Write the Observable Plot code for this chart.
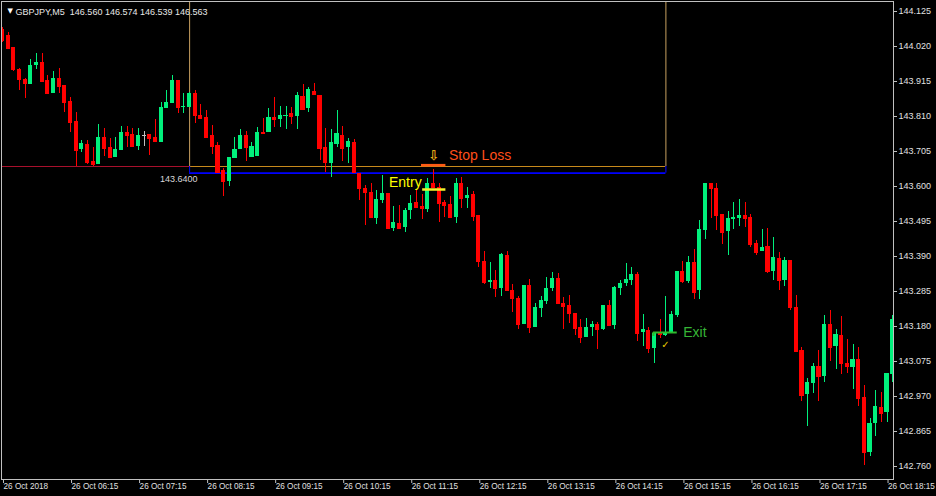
<!DOCTYPE html>
<html>
<head>
<meta charset="utf-8">
<script src="https://cdn.jsdelivr.net/npm/d3@7"></script>
<script src="https://cdn.jsdelivr.net/npm/@observablehq/plot@0.6"></script>
<style>
html, body { margin: 0; padding: 0; background: #000; }
#chart svg { display: block; }
</style>
</head>
<body>
<div id="chart"></div>
<script>
// ---- Data (GBPJPY, M5, 26 Oct 2018) ----
const symbolLabel = "GBPJPY,M5";
const headerQuote = ["146.560", "146.574", "146.539", "146.563"];

const open = [
144.071,144.053,144.017,143.951,143.921,143.906,143.963,143.972,143.918,143.879,
143.924,143.903,143.855,143.795,143.711,143.726,143.675,143.666,143.747,143.717,
143.687,143.708,143.762,143.756,143.720,143.753,143.756,143.747,143.732,143.834,
143.849,143.918,143.837,143.837,143.879,143.813,143.807,143.753,143.723,143.648,
143.615,143.684,143.711,143.753,143.687,143.690,143.762,143.762,143.807,143.801,
143.810,143.819,143.810,143.870,143.834,143.885,143.873,143.717,143.669,143.726,
143.753,143.717,143.732,143.639,143.594,143.582,143.504,143.558,143.579,143.474,
143.489,143.477,143.528,143.552,143.540,143.531,143.609,143.597,143.552,143.546,
143.507,143.609,143.564,143.576,143.513,143.375,143.312,143.318,143.294,143.393,
143.288,143.264,143.186,143.303,143.177,143.234,143.255,143.294,143.324,143.249,
143.243,143.219,143.177,143.147,143.177,143.186,143.171,143.243,143.183,143.294,
143.309,143.318,143.336,143.162,143.168,143.114,143.162,143.153,143.159,143.213,
143.345,143.315,143.372,143.288,143.468,143.609,143.594,143.516,143.465,143.501,
143.504,143.513,143.507,143.429,143.405,143.420,143.345,143.384,143.318,143.378,
143.237,143.108,142.976,143.009,143.060,143.030,143.186,143.120,143.153,143.069,
143.057,143.081,142.967,142.802,142.889,142.937,142.922,143.036
];
const high = [
144.077,144.062,144.017,143.954,143.924,143.981,143.999,143.999,143.933,143.945,
143.954,143.903,143.867,143.822,143.738,143.738,143.717,143.786,143.774,143.744,
143.747,143.780,143.780,143.774,143.774,143.765,143.756,143.801,143.852,143.888,
143.933,143.918,143.879,143.882,143.888,143.846,143.828,143.783,143.732,143.654,
143.687,143.747,143.771,143.765,143.732,143.777,143.804,143.834,143.867,143.840,
143.840,143.837,143.882,143.906,143.897,143.909,143.873,143.774,143.771,143.828,
143.780,143.744,143.741,143.639,143.603,143.609,143.588,143.633,143.579,143.540,
143.543,143.534,143.573,143.588,143.576,143.624,143.651,143.609,143.558,143.570,
143.624,143.627,143.597,143.585,143.513,143.405,143.372,143.348,143.399,143.405,
143.306,143.270,143.303,143.321,143.249,143.270,143.327,143.342,143.339,143.267,
143.273,143.219,143.201,143.204,143.195,143.192,143.243,143.258,143.300,143.318,
143.369,143.357,143.342,143.216,143.177,143.159,143.201,143.270,143.225,143.345,
143.375,143.390,143.411,143.498,143.609,143.609,143.609,143.516,143.525,143.552,
143.561,143.552,143.516,143.438,143.471,143.474,143.447,143.402,143.387,143.378,
143.273,143.117,143.024,143.069,143.108,143.213,143.228,143.171,143.210,143.141,
143.126,143.117,143.003,142.904,142.988,142.982,143.039,143.213
];
const low = [
144.032,144.011,143.945,143.888,143.864,143.906,143.951,143.915,143.879,143.879,
143.879,143.822,143.762,143.660,143.702,143.666,143.660,143.666,143.690,143.687,
143.687,143.708,143.717,143.720,143.708,143.720,143.693,143.735,143.732,143.834,
143.849,143.819,143.819,143.837,143.789,143.801,143.747,143.696,143.642,143.570,
143.600,143.684,143.711,143.675,143.687,143.690,143.759,143.762,143.777,143.777,
143.771,143.786,143.771,143.831,143.822,143.876,143.678,143.642,143.627,143.717,
143.675,143.669,143.642,143.558,143.483,143.507,143.486,143.549,143.474,143.465,
143.474,143.462,143.501,143.534,143.501,143.522,143.597,143.492,143.507,143.507,
143.489,143.534,143.534,143.495,143.357,143.306,143.294,143.267,143.270,143.288,
143.222,143.171,143.186,143.159,143.177,143.207,143.246,143.285,143.249,143.171,
143.189,143.153,143.129,143.147,143.150,143.111,143.168,143.183,143.171,143.273,
143.300,143.303,143.135,143.120,143.099,143.069,143.144,143.150,143.159,143.207,
143.309,143.309,143.261,143.261,143.441,143.504,143.468,143.426,143.393,143.471,
143.480,143.477,143.417,143.393,143.405,143.339,143.318,143.288,143.300,143.228,
143.105,142.955,142.880,142.979,142.955,143.012,143.075,143.051,143.036,143.039,
142.991,142.940,142.763,142.790,142.850,142.892,142.892,143.012
];
const close = [
144.038,144.014,143.951,143.921,143.909,143.963,143.972,143.915,143.879,143.924,
143.900,143.852,143.792,143.708,143.729,143.672,143.666,143.747,143.714,143.687,
143.711,143.762,143.753,143.720,143.753,143.753,143.744,143.735,143.837,143.852,
143.918,143.837,143.840,143.879,143.813,143.804,143.747,143.720,143.642,143.615,
143.687,143.711,143.753,143.717,143.720,143.762,143.759,143.807,143.801,143.813,
143.813,143.810,143.873,143.831,143.891,143.876,143.714,143.672,143.732,143.759,
143.714,143.735,143.642,143.594,143.582,143.507,143.561,143.579,143.474,143.492,
143.474,143.528,143.549,143.537,143.534,143.609,143.597,143.549,143.543,143.507,
143.609,143.564,143.573,143.510,143.375,143.312,143.318,143.294,143.396,143.288,
143.264,143.186,143.303,143.177,143.237,143.258,143.294,143.324,143.249,143.240,
143.219,143.174,143.147,143.177,143.186,143.171,143.243,143.183,143.297,143.309,
143.321,143.336,143.159,143.171,143.114,143.159,143.156,143.159,143.216,143.345,
143.315,143.372,143.282,143.471,143.609,143.594,143.513,143.462,143.504,143.507,
143.513,143.504,143.426,143.402,143.417,143.345,143.387,143.318,143.378,143.237,
143.105,142.973,143.012,143.060,143.030,143.186,143.117,143.156,143.069,143.060,
143.081,142.964,142.802,142.889,142.940,142.919,143.039,143.201
];

// price axis ticks and time axis labels (bar index of each label)
const priceTicks = [142.760,142.865,142.970,143.075,143.180,143.285,143.390,143.495,143.600,143.705,143.810,143.915,144.020,144.125];
const timeTickBars = [1,13,25,37,49,61,73,85,97,109,121,133,145,157];
const timeTickLabels = ["26 Oct 2018","26 Oct 06:15","26 Oct 07:15","26 Oct 08:15","26 Oct 09:15","26 Oct 10:15","26 Oct 11:15","26 Oct 12:15","26 Oct 13:15","26 Oct 14:15","26 Oct 15:15","26 Oct 16:15","26 Oct 17:15","26 Oct 18:15"];

// visible window (bars) and price range
const viewBars = [0.824, 158.14];
const viewPrice = [142.721, 144.155];

// trade annotations
const boxBars = [34, 118];          // selection box left / right bar
const stopLevel = 143.660;          // orange line
const priceLine = 143.640;          // blue line
const priceLineLabel = "143.6400";
const entryBars = [75.1, 79.2];
const entryPrice = 143.591;
const stopMarkBars = [74.9, 79.2];
const stopMarkPrice = 143.664;
const stopTextPrice = 143.693;
const exitBars = [115.8, 120.0];
const exitPrice = 143.162;
const exitTickLow = 143.150;
const checkBar = 117.9;
const checkPrice = 143.126;

// ---- Build table ----
const UP = "#00f07c", DOWN = "#ff0000", DOJI = "#c0c0c0";
const bars = open.map((o, k) => ({
  i: k + 1, open: o, high: high[k], low: low[k], close: close[k],
  color: close[k] > o ? UP : close[k] < o ? DOWN : DOJI
}));
const halfW = 0.36;

const FONT = "Liberation Sans, Arial, sans-serif";

const chart = Plot.plot({
  width: 936,
  height: 496,
  marginLeft: 1,
  marginRight: 43,
  marginTop: 1,
  marginBottom: 17,
  style: { background: "#000", color: "#e0e0e0", fontFamily: FONT },
  x: { domain: viewBars },
  y: { domain: viewPrice },
  color: { type: "identity" },
  marks: [
    // selection box and level lines
    Plot.ruleY([stopLevel], { x1: viewBars[0], x2: boxBars[0], stroke: "#a8102c", strokeWidth: 1 }),
    Plot.ruleY([stopLevel], { x1: boxBars[0], x2: boxBars[1], stroke: "#c88a1c", strokeWidth: 1 }),
    Plot.ruleX(boxBars, { y1: stopLevel, y2: viewPrice[1], stroke: "#c8a060", strokeWidth: 1 }),
    Plot.ruleX(boxBars, { y1: priceLine, y2: stopLevel, stroke: "#0000ff", strokeWidth: 1 }),
    Plot.ruleY([priceLine], { x1: boxBars[0], x2: boxBars[1], stroke: "#0000ff", strokeWidth: 1.6 }),
    Plot.text([priceLineLabel], { x: boxBars[0], y: priceLine, text: d => d, textAnchor: "end", dx: 8, dy: 6, fill: "#d8d8d8", fontSize: 9 }),

    // candles
    Plot.ruleX(bars, { x: "i", y1: "low", y2: "high", stroke: "color", strokeWidth: 1, clip: true, shapeRendering: "crispEdges" }),
    Plot.rect(bars, { x1: d => d.i - halfW, x2: d => d.i + halfW, y1: "open", y2: "close", fill: "color", clip: true, shapeRendering: "crispEdges" }),
    Plot.ruleY(bars, { x1: d => d.i - halfW, x2: d => d.i + halfW, y: "close", stroke: "color", strokeWidth: 1, clip: true, shapeRendering: "crispEdges" }),

    // entry
    Plot.ruleY([entryPrice], { x1: entryBars[0], x2: entryBars[1], stroke: "#f4f02a", strokeWidth: 2.5 }),
    Plot.text(["Entry"], { x: entryBars[0], y: entryPrice, text: d => d, textAnchor: "end", dx: -1, dy: -7, fill: "#ffff00", fontSize: 14 }),

    // stop loss
    Plot.ruleY([stopMarkPrice], { x1: stopMarkBars[0], x2: stopMarkBars[1], stroke: "#ff5a14", strokeWidth: 2.5 }),
    Plot.text(["⇩"], { x: (stopMarkBars[0] + stopMarkBars[1]) / 2, y: stopTextPrice, text: d => d, fill: "#f0c020", stroke: "#c06000", strokeWidth: 0.3, fontSize: 13, fontFamily: "DejaVu Sans" }),
    Plot.text(["Stop Loss"], { x: stopMarkBars[1], y: stopTextPrice, text: d => d, textAnchor: "start", dx: 3, fill: "#ff4f1a", fontSize: 14 }),

    // exit
    Plot.ruleY([exitPrice], { x1: exitBars[0], x2: exitBars[1], stroke: "#2dbb2d", strokeWidth: 2 }),
    Plot.ruleX([exitBars[0]], { y1: exitTickLow, y2: exitPrice, stroke: "#2dbb2d", strokeWidth: 2 }),
    Plot.text(["Exit"], { x: exitBars[1], y: exitPrice, text: d => d, textAnchor: "start", dx: 6, fill: "#36b536", fontSize: 14 }),
    Plot.text(["✓"], { x: checkBar, y: checkPrice, text: d => d, fill: "#e8c800", fontSize: 10, fontFamily: "DejaVu Sans" }),

    // header
    Plot.text(["▼"], { frameAnchor: "top-left", dx: 6, dy: 7, text: d => d, fill: "#ffffff", fontSize: 7, fontFamily: "DejaVu Sans" }),
    Plot.text([symbolLabel + "  " + headerQuote.join(" ")], { frameAnchor: "top-left", textAnchor: "start", dx: 14, dy: 7, text: d => d, fill: "#e8e8e8", fontSize: 9 }),

    // axes and frame
    Plot.frame({ stroke: "#c0c0c0" }),
    Plot.axisY({ anchor: "right", ticks: priceTicks, tickFormat: d3.format(".3f"), tickSize: 3, tickPadding: 2, fontSize: 9, label: null, stroke: "#c0c0c0", fill: "#e0e0e0" }),
    Plot.axisX({ anchor: "bottom", ticks: timeTickBars, tickFormat: d => timeTickLabels[timeTickBars.indexOf(d)], tickSize: 4, tickPadding: 0, textAnchor: "start", dx: 1, fontSize: 8.2, label: null, stroke: "#c0c0c0", fill: "#e0e0e0" })
  ]
});
document.getElementById("chart").appendChild(chart);
</script>
</body>
</html>
